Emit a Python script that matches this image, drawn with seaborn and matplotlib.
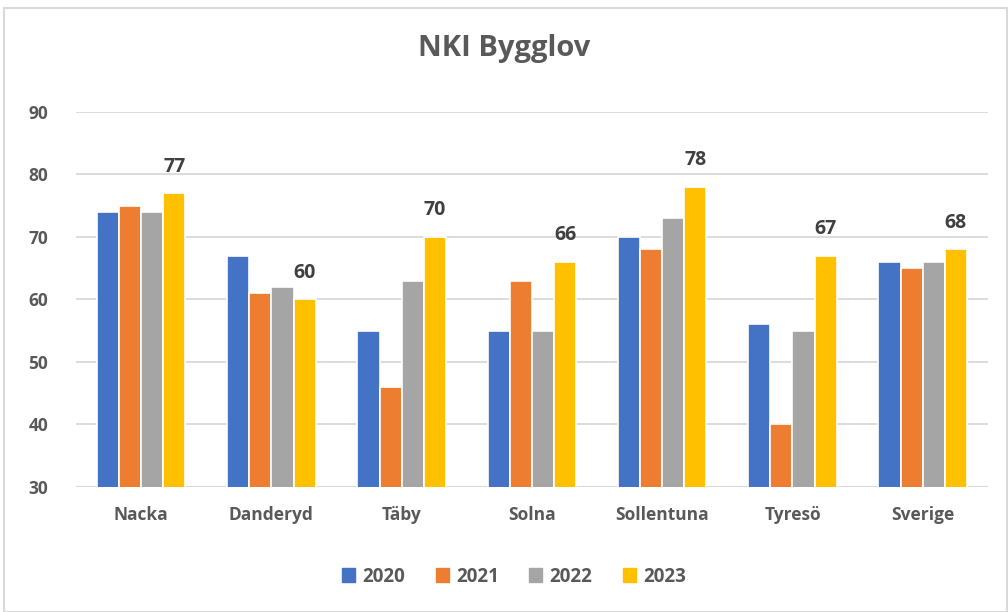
import matplotlib
matplotlib.use("Agg")
import matplotlib.pyplot as plt
from matplotlib.patches import Rectangle
import seaborn as sns
import pandas as pd

kommuner = ["Nacka", "Danderyd", "Täby", "Solna", "Sollentuna", "Tyresö", "Sverige"]
years = ["2020", "2021", "2022", "2023"]
nki_2020 = [74, 67, 55, 55, 70, 56, 66]
nki_2021 = [75, 61, 46, 63, 68, 40, 65]
nki_2022 = [74, 62, 63, 55, 73, 55, 66]
nki_2023 = [77, 60, 70, 66, 78, 67, 68]
colors = ["#4472C4", "#ED7D31", "#A5A5A5", "#FFC000"]

rows = []
for year, vals in zip(years, [nki_2020, nki_2021, nki_2022, nki_2023]):
    for k, v in zip(kommuner, vals):
        rows.append({"Kommun": k, "År": year, "NKI": v})
df = pd.DataFrame(rows)

sns.set_style("white")
plt.rcParams["font.family"] = ["Open Sans", "DejaVu Sans"]
text_col = "#595959"

fig = plt.figure(figsize=(10.08, 6.12), dpi=100)
ax = fig.add_axes([0.0754, 0.2043, 0.9046, 0.6127])

sns.barplot(data=df, x="Kommun", y="NKI", hue="År", palette=colors, saturation=1,
            width=0.68, edgecolor="white", linewidth=1.2, ax=ax, legend=False)

# only 2023 gets data labels
ax.bar_label(ax.containers[3], labels=[str(v) for v in nki_2023], padding=12,
             fontsize=14, fontweight="bold", color="#404040")

ax.set_ylim(30, 90)
ax.set_yticks(range(30, 91, 10))
ax.yaxis.grid(True, color="#D9D9D9", linewidth=1.3)
ax.set_axisbelow(True)
for s in ax.spines.values():
    s.set_visible(False)
ax.axhline(30, color="#D9D9D9", linewidth=1.5, zorder=0)
ax.set_xlabel("")
ax.set_ylabel("")
ax.tick_params(axis="both", length=0, labelsize=12.5, labelcolor=text_col)
ax.tick_params(axis="x", pad=14)
ax.tick_params(axis="y", pad=20)
for lbl in ax.get_xticklabels() + ax.get_yticklabels():
    lbl.set_fontweight("bold")

fig.suptitle("NKI Bygglov", x=0.5, y=0.945, fontsize=21, fontweight="bold", color=text_col)

handles = [Rectangle((0, 0), 1, 1, color=c) for c in colors]
fig.legend(handles, years, loc="center", bbox_to_anchor=(0.51, 0.058), ncol=4,
           frameon=False, handlelength=0.7, handleheight=0.7, handletextpad=0.4,
           columnspacing=1.6, prop={"size": 13.5, "weight": "bold"}, labelcolor=text_col)

fig.patches.append(Rectangle((0.004, 0.0), 0.995, 0.987, transform=fig.transFigure,
                             fill=False, edgecolor="#D9D9D9", linewidth=1.5))

fig.savefig("out.png", dpi=100)
